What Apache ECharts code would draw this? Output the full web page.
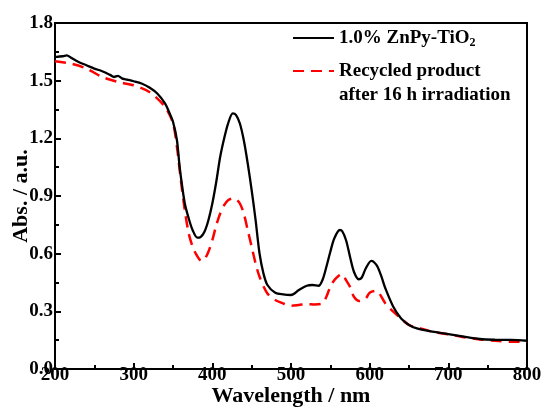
<!DOCTYPE html>
<html>
<head>
<meta charset="utf-8">
<script src="https://cdn.jsdelivr.net/npm/echarts@6/dist/echarts.min.js"></script>
<style>
html,body{margin:0;padding:0;background:#fff;}
#c{width:541px;height:408px;}
</style>
</head>
<body>
<div id="c"></div>
<script>
const xTicks = [200, 300, 400, 500, 600, 700, 800];
const yTicks = [0.0, 0.3, 0.6, 0.9, 1.2, 1.5, 1.8];

const seriesNames = ['1.0% ZnPy-TiO2', 'Recycled product'];
const legendSecondLine = 'after 16 h irradiation';

const blackNm = [200,210,215,220,230,240,250,260,270,275,280,285,290,300,310,320,330,340,345,350,355,358,360,365,370,375,381,385,390,395,400,405,410,415,420,426,430,435,440,445,450,455,460,465,470,480,490,500,510,520,527,535,540,545,550,555,562,565,570,575,580,586,590,595,602,605,610,615,620,630,640,650,660,680,700,720,740,760,780,800];
const blackAbs = [1.623,1.627,1.632,1.62,1.597,1.58,1.563,1.549,1.53,1.519,1.525,1.512,1.507,1.497,1.485,1.464,1.433,1.381,1.337,1.286,1.19,1.069,1.0,0.861,0.783,0.722,0.683,0.686,0.714,0.774,0.861,0.974,1.104,1.199,1.277,1.330,1.322,1.277,1.19,1.069,0.93,0.774,0.601,0.497,0.437,0.397,0.388,0.385,0.411,0.433,0.437,0.433,0.463,0.532,0.61,0.679,0.723,0.718,0.67,0.584,0.506,0.467,0.476,0.523,0.563,0.558,0.532,0.48,0.419,0.324,0.263,0.229,0.211,0.194,0.182,0.168,0.156,0.152,0.151,0.147];

const redNm = [200,220,240,260,280,300,320,340,350,355,360,365,370,375,380,386,390,395,400,405,410,415,420,427,430,435,440,445,450,455,460,470,480,490,500,510,520,530,540,545,550,555,560,565,570,575,580,587,595,600,608,612,620,630,640,650,660,680,700,720,740,760,780,800];
const redAbs = [1.601,1.589,1.563,1.519,1.493,1.476,1.441,1.363,1.277,1.156,0.982,0.826,0.705,0.636,0.593,0.563,0.57,0.61,0.67,0.748,0.809,0.852,0.878,0.888,0.884,0.861,0.809,0.722,0.636,0.549,0.48,0.393,0.359,0.341,0.329,0.333,0.338,0.336,0.341,0.376,0.428,0.462,0.483,0.494,0.462,0.428,0.376,0.354,0.367,0.397,0.406,0.395,0.341,0.298,0.263,0.229,0.217,0.194,0.18,0.165,0.154,0.147,0.142,0.142];

const FONT = '"Liberation Serif", "Times New Roman", serif';

const chart = echarts.init(document.getElementById('c'), null, {renderer: 'canvas'});
chart.setOption({
  animation: false,
  backgroundColor: '#fff',
  grid: {left: 55, right: 14, top: 23, bottom: 39, containLabel: false, outerBoundsMode: 'none',
         show: true, borderColor: '#000', borderWidth: 2, backgroundColor: 'transparent'},
  xAxis: {
    type: 'value', min: xTicks[0], max: xTicks[xTicks.length-1], interval: 100,
    name: 'Wavelength / nm', nameLocation: 'middle', nameGap: 16, nameMoveOverlap: false,
    nameTextStyle: {fontFamily: FONT, fontWeight: 'bold', fontSize: 22, color: '#000'},
    axisLine: {show: true, lineStyle: {color: '#000', width: 2}},
    axisTick: {show: true, inside: true, length: 6, lineStyle: {color: '#000', width: 2}},
    minorTick: {show: true, splitNumber: 2, length: 4, lineStyle: {color: '#000', width: 2}},
    axisLabel: {fontFamily: FONT, fontWeight: 'bold', fontSize: 19, color: '#000', margin: -3, formatter: v => String(v)},
    splitLine: {show: false}
  },
  yAxis: {
    type: 'value', min: yTicks[0], max: yTicks[yTicks.length-1], interval: 0.3,
    name: 'Abs. / a.u.', nameLocation: 'middle', nameGap: 23, nameMoveOverlap: false,
    nameTextStyle: {fontFamily: FONT, fontWeight: 'bold', fontSize: 22, color: '#000'},
    axisLine: {show: true, lineStyle: {color: '#000', width: 2}},
    axisTick: {show: true, inside: true, length: 6, lineStyle: {color: '#000', width: 2}},
    minorTick: {show: true, splitNumber: 2, length: 4, lineStyle: {color: '#000', width: 2}},
    axisLabel: {fontFamily: FONT, fontWeight: 'bold', fontSize: 19, color: '#000', margin: 2, formatter: v => v.toFixed(1)},
    splitLine: {show: false}
  },
  legend: {
    orient: 'vertical', left: 292, top: 27, padding: 0, itemWidth: 41, itemHeight: 14, itemGap: 11,
    data: seriesNames,
    itemStyle: {opacity: 0},
    formatter: function (name) {
      if (name === seriesNames[0]) return '{t|1.0% ZnPy-TiO}{s|2}';
      return '{t|' + name + '}';
    },
    textStyle: {
      fontFamily: FONT, fontWeight: 'bold', fontSize: 19, color: '#000', lineHeight: 22,
      rich: {
        t: {fontFamily: FONT, fontWeight: 'bold', fontSize: 19, color: '#000', lineHeight: 22},
        s: {fontFamily: FONT, fontWeight: 'bold', fontSize: 12, color: '#000', lineHeight: 22, verticalAlign: 'bottom'}
      }
    }
  },
  graphic: [{
    type: 'text', left: 339, top: 86,
    style: {text: legendSecondLine, font: 'bold 19px ' + FONT, fill: '#000'}
  }],
  series: [
    {
      name: seriesNames[0], type: 'line', symbol: 'none', smooth: 0.3,
      data: blackNm.map((x, i) => [x, blackAbs[i]]),
      lineStyle: {color: '#000', width: 2.3},
      itemStyle: {color: '#000'}, z: 3
    },
    {
      name: seriesNames[1], type: 'line', symbol: 'none', smooth: 0.3,
      data: redNm.map((x, i) => [x, redAbs[i]]),
      lineStyle: {color: '#ff0000', width: 2.5, type: [11, 7]},
      itemStyle: {color: '#ff0000'}, z: 2
    }
  ]
});
</script>
</body>
</html>
